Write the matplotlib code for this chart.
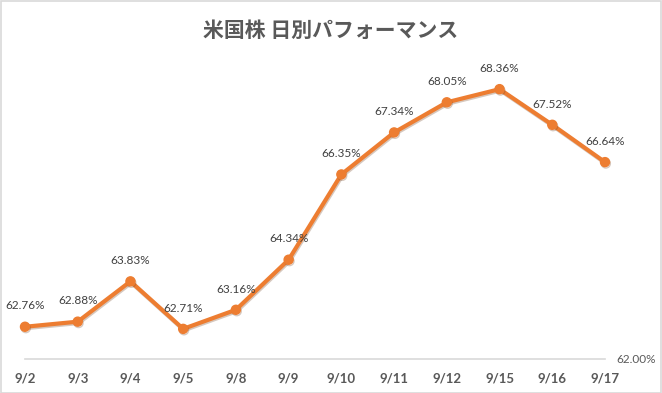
import matplotlib
matplotlib.use("Agg")
import matplotlib.pyplot as plt
from matplotlib.patches import Rectangle
import matplotlib.patheffects as pe

dates = ["9/2", "9/3", "9/4", "9/5", "9/8", "9/9", "9/10", "9/11", "9/12", "9/15", "9/16", "9/17"]
values = [62.76, 62.88, 63.83, 62.71, 63.16, 64.34, 66.35, 67.34, 68.05, 68.36, 67.52, 66.64]
title = "米国株 日別パフォーマンス"
y_min, y_max = 62.0, 69.0

W, H = 662, 393
fig = plt.figure(figsize=(W / 100, H / 100), dpi=100)
fig.patch.set_facecolor("white")
fig.add_artist(Rectangle((0.5 / W, 0.5 / H), 1 - 1.5 / W, 1 - 1.5 / H, transform=fig.transFigure,
                         fill=False, edgecolor="#D9D9D9", linewidth=1.2))

left, right, bottom, top = 25, 605, 359, 62
ax = fig.add_axes([left / W, (H - bottom) / H, (right - left) / W, (bottom - top) / H])
x = list(range(len(dates)))
orange = "#ED7D31"
ax.plot(x, values, color=orange, linewidth=3, marker="o", markersize=6.5,
        solid_capstyle="round", solid_joinstyle="round", zorder=3, clip_on=False,
        path_effects=[pe.SimpleLineShadow(offset=(0.6, -1.0), shadow_color="#7a4a2a", alpha=0.3), pe.Normal()])
ax.set_xlim(0, len(dates) - 1)
ax.set_ylim(y_min, y_max)
ax.set_xticks(x)
ax.set_xticklabels(dates, fontfamily="Lato", fontweight="bold", fontsize=9.5, color="#595959")
ax.tick_params(axis="x", length=0, pad=10)
ax.set_yticks([])
for s in ["left", "right", "top"]:
    ax.spines[s].set_visible(False)
ax.spines["bottom"].set_color("#D9D9D9")
ax.spines["bottom"].set_linewidth(1.2)

for xi, v in zip(x, values):
    ax.annotate(f"{v:.2f}%", (xi, v), xytext=(0, 11), textcoords="offset points",
                ha="center", va="bottom", fontfamily="Lato", fontsize=8.5, color="#404040")

ax2 = ax.twinx()
ax2.set_ylim(y_min, y_max)
ax2.set_yticks([y_min])
ax2.set_yticklabels([f"{y_min:.2f}%"], fontfamily="Lato", fontsize=8.5, color="#595959")
ax2.tick_params(axis="y", length=0, pad=8)
for s in ax2.spines.values():
    s.set_visible(False)

fig.text(0.5, 1 - 30 / H, title, ha="center", va="center", fontsize=15,
         fontfamily=["Noto Sans CJK JP", "DejaVu Sans"], fontweight="bold", color="#595959")

fig.savefig("out.png", dpi=100)
